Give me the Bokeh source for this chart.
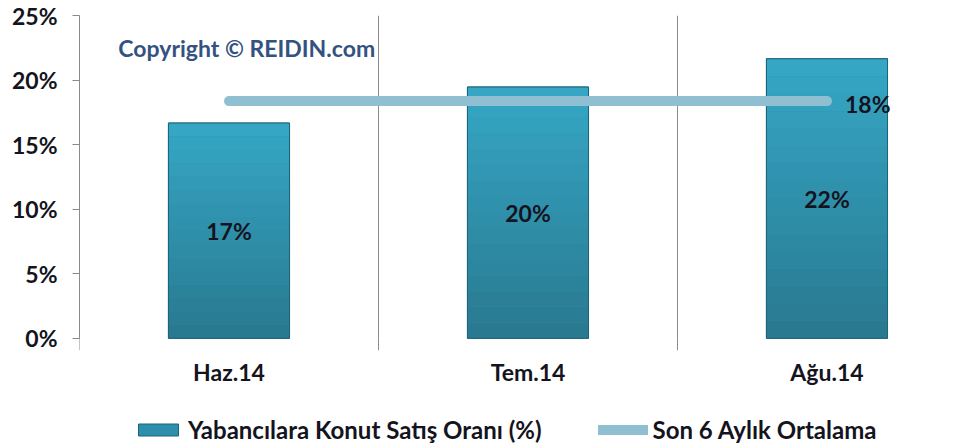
import math
from bokeh.plotting import figure
from bokeh.models import (Range1d, FixedTicker, LinearAxis, ColumnDataSource, Legend, LegendItem, Label)
from bokeh.core.properties import value
from bokeh.embed import file_html
from bokeh.resources import INLINE

categories = ["Haz.14", "Tem.14", "Ağu.14"]
rates = [0.1667, 0.1946, 0.2165]
rate_labels = ["17%", "20%", "22%"]
avg_value = 0.1837
avg_label = "18%"
y_ticks = [0.0, 0.05, 0.10, 0.15, 0.20, 0.25]
y_tick_labels = ["0%", "5%", "10%", "15%", "20%", "25%"]

FONT = "Lato"
GRID = "#8a8a8a"
BAR = "#2e8fac"
AVG = "#8fbfd0"
TXT = "#141420"
FS = "23px"

xs = [i + 0.5 for i in range(len(categories))]
bounds = list(range(len(categories) + 1))
y_min, y_max = y_ticks[0], y_ticks[-1]

# frame runs to the bottom of the canvas; the space below 0 holds labels and legend
p = figure(width=967, height=447, output_backend="svg", toolbar_location=None,
           x_range=Range1d(0, 2.97), y_range=Range1d(-0.0846, y_max),
           x_axis_type=None, y_axis_type=None,
           min_border_top=15, min_border_right=0, min_border_left=79, min_border_bottom=0)
p.outline_line_color = None
p.background_fill_color = "white"
p.border_fill_color = "white"
p.xgrid.visible = False

# y axis
yax = LinearAxis(ticker=FixedTicker(ticks=y_ticks), bounds=(y_min, y_max),
                 major_label_overrides={t: l for t, l in zip(y_ticks, y_tick_labels)})
yax.axis_line_color = GRID
yax.major_tick_line_color = GRID
yax.major_tick_out = 7
yax.major_tick_in = 0
yax.minor_tick_line_color = None
yax.major_label_text_font = FONT
yax.major_label_text_font_style = "bold"
yax.major_label_text_font_size = FS
yax.major_label_text_color = TXT
yax.major_label_standoff = 15
p.add_layout(yax, "left")

p.ygrid.ticker = FixedTicker(ticks=y_ticks)
p.ygrid.grid_line_color = GRID

# vertical category separators and their tick marks below the baseline
p.segment(x0=bounds, x1=bounds, y0=[y_min] * len(bounds), y1=[y_max] * len(bounds),
          line_color=GRID, line_width=1)
p.ray(x=bounds, y=[y_min] * len(bounds), length=12, length_units="screen",
      angle=-math.pi / 2, line_color=GRID, line_width=1)

# category labels under the baseline
p.text(x=xs, y=[y_min] * len(xs), text=categories, y_offset=34,
       text_align="center", text_baseline="middle",
       text_font=value(FONT), text_font_style="bold", text_font_size=FS, text_color=TXT)

# bars (base fill used for legend), then vertical gradient slices, then outline
src = ColumnDataSource(dict(x=xs, top=rates, mid=[r / 2 for r in rates], lab=rate_labels))
bars = p.vbar(x="x", top="top", bottom=0, width=0.405, source=src,
              fill_color=BAR, line_color="#1d6479")

def mix(c1, c2, t):
    a = [int(c1[i:i + 2], 16) for i in (1, 3, 5)]
    b = [int(c2[i:i + 2], 16) for i in (1, 3, 5)]
    return "#%02x%02x%02x" % tuple(round(a[k] + (b[k] - a[k]) * t) for k in range(3))

N = 16
for k in range(N):
    t = k / (N - 1)
    p.vbar(x=xs, bottom=[r * k / N for r in rates], top=[r * (k + 1) / N for r in rates],
           width=0.405, fill_color=mix("#297a91", "#35a6c4", t), line_color=None)
p.vbar(x="x", top="top", bottom=0, width=0.405, source=src,
       fill_color=None, line_color="#1d6479", line_width=1)

p.text(x="x", y="mid", text="lab", source=src, text_align="center", text_baseline="middle",
       text_font=value(FONT), text_font_style="bold", text_font_size=FS, text_color=TXT)

avg_src = ColumnDataSource(dict(x=[xs[0], xs[-1]], y=[avg_value, avg_value]))
avg = p.line(x="x", y="y", source=avg_src, line_color=AVG, line_width=10, line_cap="round")
p.text(x=[xs[-1]], y=[avg_value], text=[avg_label], x_offset=18, y_offset=3,
       text_align="left", text_baseline="middle",
       text_font=value(FONT), text_font_style="bold", text_font_size=FS, text_color=TXT)

p.add_layout(Label(x=0.13, y=0.225, text="Copyright © REIDIN.com", text_font=FONT,
                   text_font_style="bold", text_font_size=FS, text_color="#34527f",
                   text_baseline="middle"))

legend = Legend(items=[LegendItem(label="Yabancılara Konut Satış Oranı (%)", renderers=[bars]),
                       LegendItem(label="Son 6 Aylık Ortalama", renderers=[avg])],
                orientation="horizontal", location=(54, 3),
                label_text_font=FONT, label_text_font_style="bold", label_text_font_size="24px",
                label_text_color=TXT, glyph_width=50, glyph_height=15, label_height=24,
                spacing=56, border_line_color=None, background_fill_alpha=0, margin=0,
                padding=0, label_standoff=5)
p.add_layout(legend, "center")

open("out.html", "w").write(file_html(p, INLINE))
